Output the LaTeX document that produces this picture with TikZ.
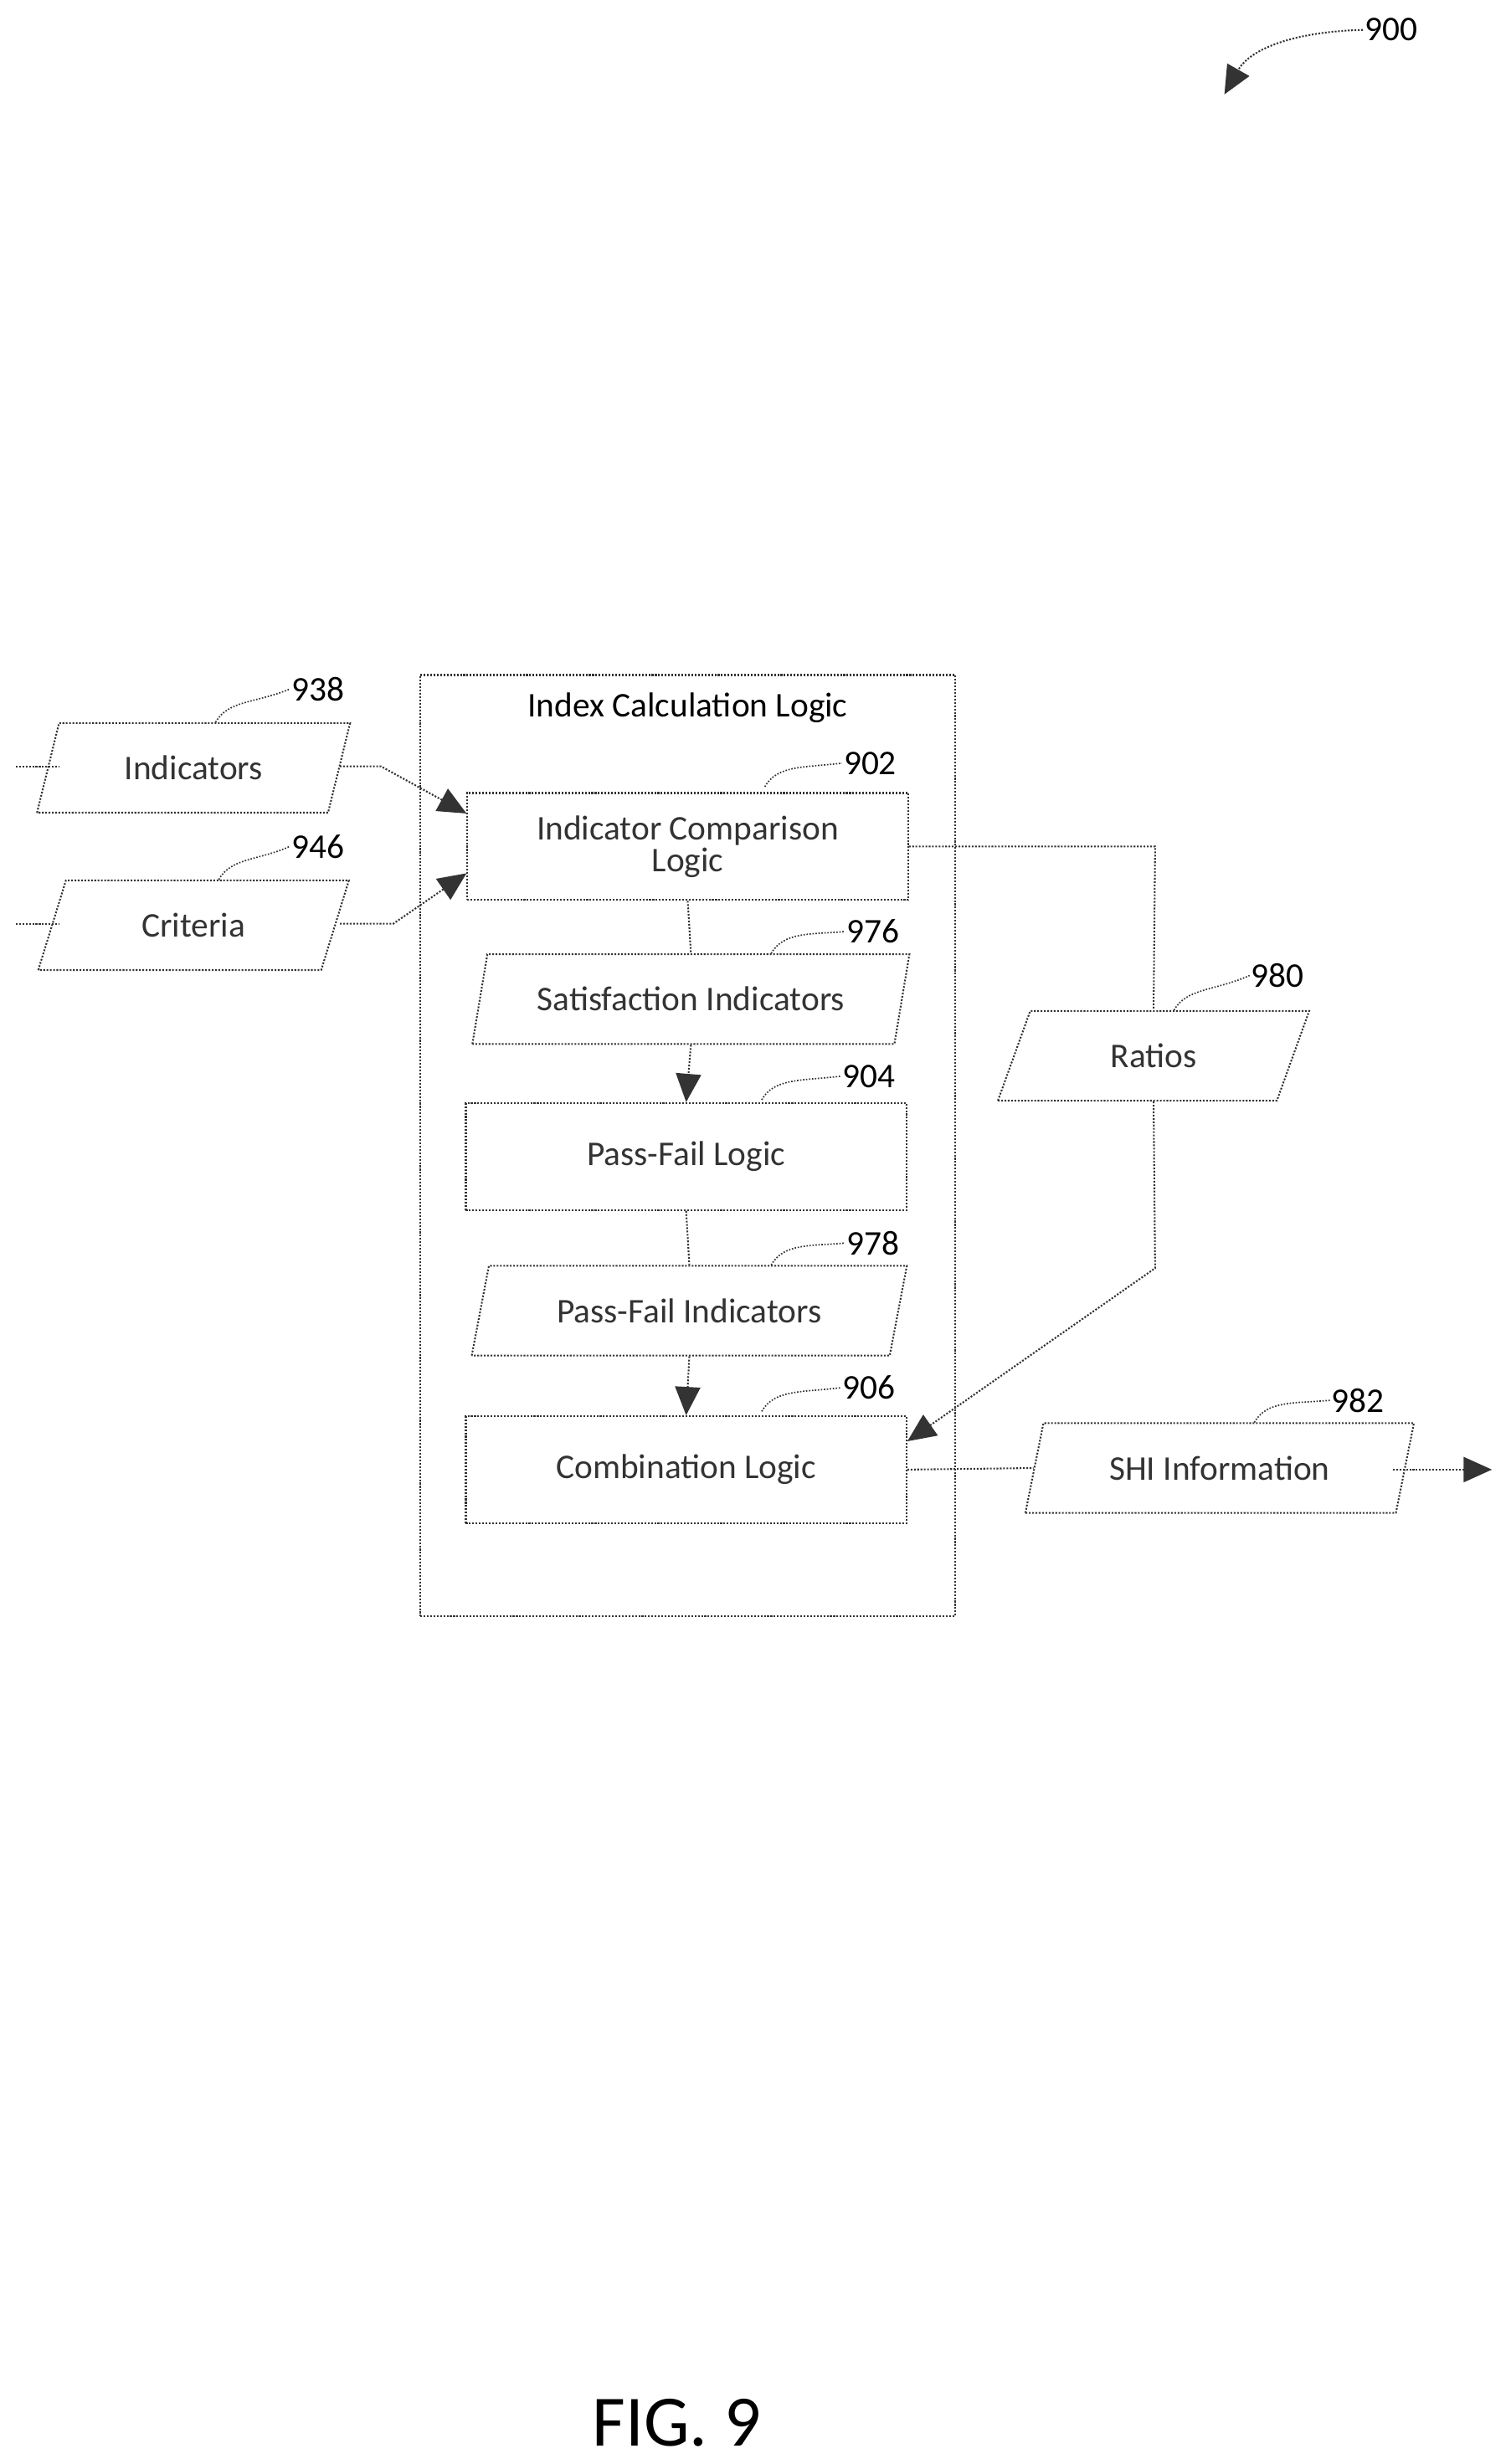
\documentclass[tikz,border=0pt]{standalone}
\usepackage{fontspec}
\setmainfont{Carlito}
\usetikzlibrary{shapes.geometric,arrows.meta,calc}
\begin{document}
\begin{tikzpicture}[x=1pt,y=-1pt,
  ln/.style={densely dotted,line width=1.1pt,black!80},
  arr/.style={ln,-{Triangle[length=18pt,width=16pt]}},
  box/.style={draw,ln,minimum width=280pt,minimum height=68pt,inner sep=0pt,align=center,font=\fontsize{22}{22}\selectfont},
  para/.style={draw,ln,trapezium,trapezium left angle=65,trapezium right angle=115,trapezium stretches=true,minimum width=#1,minimum height=57pt,inner sep=0pt,font=\fontsize{22}{22}\selectfont},
  lab/.style={font=\fontsize{22}{22}\selectfont,anchor=west,inner sep=1pt},
  lead/.style={ln,line width=0.9pt}]
\useasboundingbox (0,0) rectangle (960,1566);
\node[draw,ln,minimum width=340pt,minimum height=598pt,inner sep=0pt] (outer) at (437,728) {};
\node[font=\fontsize{22}{22}\selectfont] (title) at (437,450) {Index Calculation Logic};
\node[box] (icl) at (437,538) {Indicator Comparison\\[-2pt]Logic};
\node[para=278pt] (sat) at (439,635) {Satisfaction Indicators};
\node[box] (pfl) at (436,735) {Pass-Fail Logic};
\node[para=277pt] (pfi) at (438,833) {Pass-Fail Indicators};
\node[box] (comb) at (436,934) {Combination Logic};
\node[para=199pt] (ind) at (123,488) {Indicators};
\node[para=199pt] (crit) at (123,588) {Criteria};
\node[para=199pt] (rat) at (733,671) {Ratios};
\node[para=247pt] (shi) at (775,933) {SHI Information};
% labels
\node[lab] (l900) at (866,19) {900};
\node[lab] (l938) at (184,438) {938};
\node[lab] (l946) at (184,538) {946};
\node[lab] (l902) at (535,485) {902};
\node[lab] (l976) at (537,592) {976};
\node[lab] (l904) at (534,684) {904};
\node[lab] (l978) at (537,790) {978};
\node[lab] (l906) at (534,882) {906};
\node[lab] (l980) at (794,620) {980};
\node[lab] (l982) at (845,890) {982};
\node[font=\fontsize{46}{46}\selectfont] (fig) at (430,1540) {FIG. 9};
% leaders
\foreach \n/\x/\y in {l938/137/459,l946/139/559,l902/486/500,l976/490/606,l904/484/699,l978/490/804,l906/484/897,l980/746/642,l982/797/904}{
  \coordinate (c\n) at (\x,\y);
  \draw[lead] (c\n) .. controls ($(c\n)+(8,-14)$) and ($(c\n)+(25,-12)$) .. (\n.west);
}
\coordinate (a900) at (778,60);
\draw[arr] (l900.west) .. controls (825,20) and (795,30) .. (a900);
% inputs
\coordinate (iin) at (10,487); \coordinate (cin) at (10,587);
\draw[ln] (iin) -- (38,487);
\draw[ln] (cin) -- (38,587);
\coordinate (ib) at (242,487); \coordinate (cb) at (250,587);
\draw[arr] (216,487) -- (ib) -- (icl.west|-0,517);
\draw[arr] (216,587) -- (cb) -- (icl.west|-0,555);
% internal chain
\draw[ln] (icl.south) -- (sat.north);
\draw[arr] (sat.south) -- (pfl.north);
\draw[ln] (pfl.south) -- (pfi.north);
\draw[arr] (pfi.south) -- (comb.north);
% ratios
\coordinate (r1) at (734,538); \coordinate (r2) at (734,806);
\draw[ln] (icl.east|-r1) -- (r1) -- (rat.north);
\draw[arr] (rat.south) -- (r2) -- (comb.east|-0,916);
% output
\draw[ln] (comb.east) -- (shi.west);
\coordinate (out) at (948,934);
\draw[arr] (885,934) -- (out);
\end{tikzpicture}
\end{document}
